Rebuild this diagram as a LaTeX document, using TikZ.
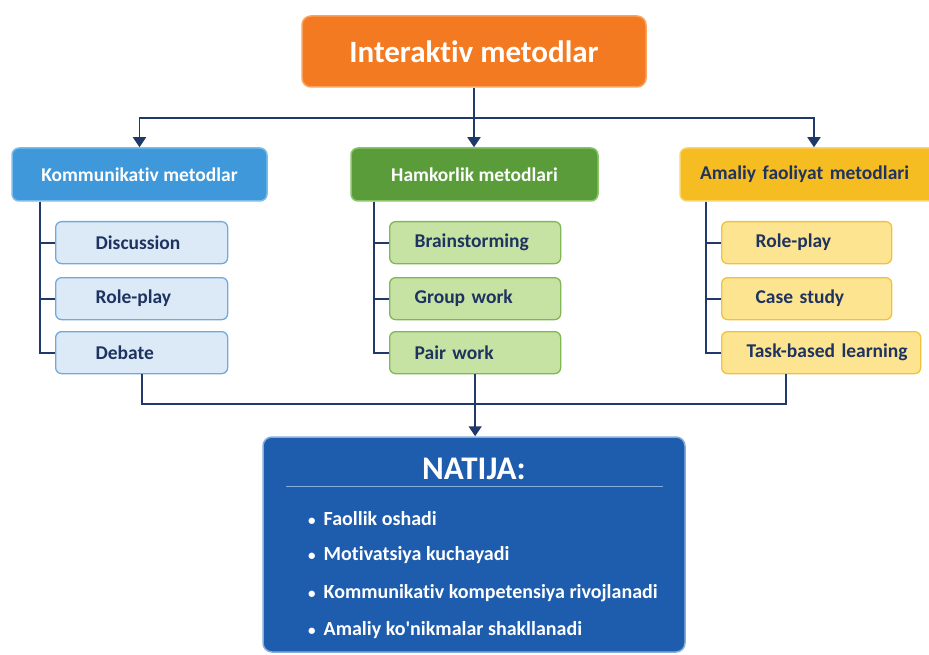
\documentclass[tikz,border=0pt]{standalone}
\usepackage{fontspec}
\setmainfont{Carlito}[Ligatures={NoCommon}]
\usetikzlibrary{arrows.meta,positioning,calc}
\definecolor{navyline}{HTML}{1F3A68}
\definecolor{topfill}{HTML}{F47A22}
\definecolor{topborder}{HTML}{F9A35E}
\definecolor{kommfill}{HTML}{3E98DA}
\definecolor{kommborder}{HTML}{7DBDEB}
\definecolor{hamkfill}{HTML}{5A9C3A}
\definecolor{hamkborder}{HTML}{8CC46A}
\definecolor{amalfill}{HTML}{F5BD22}
\definecolor{amalborder}{HTML}{F9D569}
\definecolor{kchild}{HTML}{DCEAF7}
\definecolor{kchildborder}{HTML}{72A9DC}
\definecolor{hchild}{HTML}{C7E3A4}
\definecolor{hchildborder}{HTML}{80B656}
\definecolor{achild}{HTML}{FCE491}
\definecolor{achildborder}{HTML}{F0C23C}
\definecolor{darktext}{HTML}{1E3360}
\definecolor{resfill}{HTML}{1E5CAE}
\definecolor{resborder}{HTML}{86AEDD}
\tikzset{
  line/.style={draw=navyline, line width=1.8pt},
  arrow/.style={line, -{Triangle[length=10pt,width=13pt]}},
  head/.style={rounded corners=7pt, line width=1.5pt, font=\bfseries\fontsize{19.5}{22}\selectfont,
    minimum height=53pt, inner sep=0pt},
  child/.style={rounded corners=6pt, line width=1.3pt, anchor=north west, inner sep=0pt,
    minimum height=42pt, align=left, text=darktext, font=\bfseries\fontsize{19.5}{22}\selectfont},
  kbox/.style={child, fill=kchild, draw=kchildborder, text width=172pt,
    execute at begin node=\hspace*{40pt}},
  hbox/.style={child, fill=hchild, draw=hchildborder, text width=171pt,
    execute at begin node=\hspace*{25pt}},
  abox/.style={child, fill=achild, draw=achildborder, text width=#1,
    execute at begin node=\hspace*{34pt}},
  abox/.default=170pt,
  resitem/.style={anchor=west, text=white, inner sep=0pt, font=\bfseries\fontsize{20}{24}\selectfont}
}
\newcommand{\resbullet}{{\fontsize{15}{15}\selectfont•}\hspace{8pt}}
\begin{document}
\begin{tikzpicture}[x=1pt,y=-1pt]
  \useasboundingbox (0,0) rectangle (929,655);
  % title
  \node[rounded corners=9pt, fill=topfill, draw=topborder, line width=1.5pt, text=white,
    minimum width=344pt, minimum height=71pt, font=\bfseries\fontsize{31}{34}\selectfont]
    (top) at (474,51.5) {Interaktiv metodlar};
  % three groups
  \node[head, fill=kommfill, draw=kommborder, text=white, minimum width=255pt]
    (komm) at (139.5,174.5) {Kommunikativ metodlar};
  \node[head, fill=hamkfill, draw=hamkborder, text=white, minimum width=247pt]
    (hamk) at (474.5,174.5) {Hamkorlik metodlari};
  \node[head, fill=amalfill, draw=amalborder, text=darktext, text width=220pt, inner xsep=20pt,
    align=left] (amal) at (810,174.5) {Amaliy faoliyat metodlari};
  % children
  \node[kbox] (k1) at (55,221) {Discussion};
  \node[kbox] (k2) at (55,277) {Role-play};
  \node[kbox] (k3) at (55,331) {Debate};
  \node[hbox] (h1) at (389,221) {Brainstorming};
  \node[hbox] (h2) at (389,277) {Group work};
  \node[hbox] (h3) at (389,331) {Pair work};
  \node[abox] (a1) at (721,221) {Role-play};
  \node[abox] (a2) at (721,277) {Case study};
  \node[abox=199pt, execute at begin node=\hspace*{-9pt}] (a3) at (721,331) {Task-based learning};
  % result
  \node[rounded corners=9pt, fill=resfill, draw=resborder, line width=1.5pt,
    minimum width=422pt, minimum height=215pt] (natija) at (474,544.5) {};
  \node[text=white, font=\bfseries\fontsize{33}{36}\selectfont] (ntitle) at (474,469) {NATIJA:};
  \draw[resborder, line width=1pt] ([xshift=24pt,yshift=-50pt]natija.north west)
    -- ([xshift=-23pt,yshift=-50pt]natija.north east);
  \foreach \txt [count=\i] / \yy in {Faollik oshadi/519, Motivatsiya kuchayadi/555,
      Kommunikativ kompetensiya rivojlanadi/593, Amaliy ko\textquotesingle nikmalar shakllanadi/630}
    \node[resitem] (r\i) at (308,\yy) {\resbullet\txt};
  % connectors from the title
  \coordinate (hub) at (474,118);
  \draw[line] (top.south) -- (hub);
  \draw[arrow] (hub) -| (komm.north);
  \draw[arrow] (hub) -- (hub |- hamk.north);
  \draw[arrow] (hub) -| ([xshift=4pt]amal.north);
  % tree lines
  \coordinate (kt) at ([xshift=29pt]komm.south west);
  \coordinate (ht) at ([xshift=24pt]hamk.south west);
  \coordinate (at) at ([xshift=27pt]amal.south west);
  \foreach \c in {1,2,3} {
    \draw[line] (kt) |- (k\c.west);
    \draw[line] (ht) |- (h\c.west);
    \draw[line] (at) |- (a\c.west);
  }
  % connectors to the result
  \coordinate (bus) at ([yshift=-30pt]h3.south);
  \coordinate (abot) at ([xshift=-35.5pt]a3.south);
  \draw[line] (k3.south) |- (bus);
  \draw[line] (abot) |- (bus);
  \draw[arrow] (h3.south) -- (h3.south |- natija.north);
\end{tikzpicture}
\end{document}
